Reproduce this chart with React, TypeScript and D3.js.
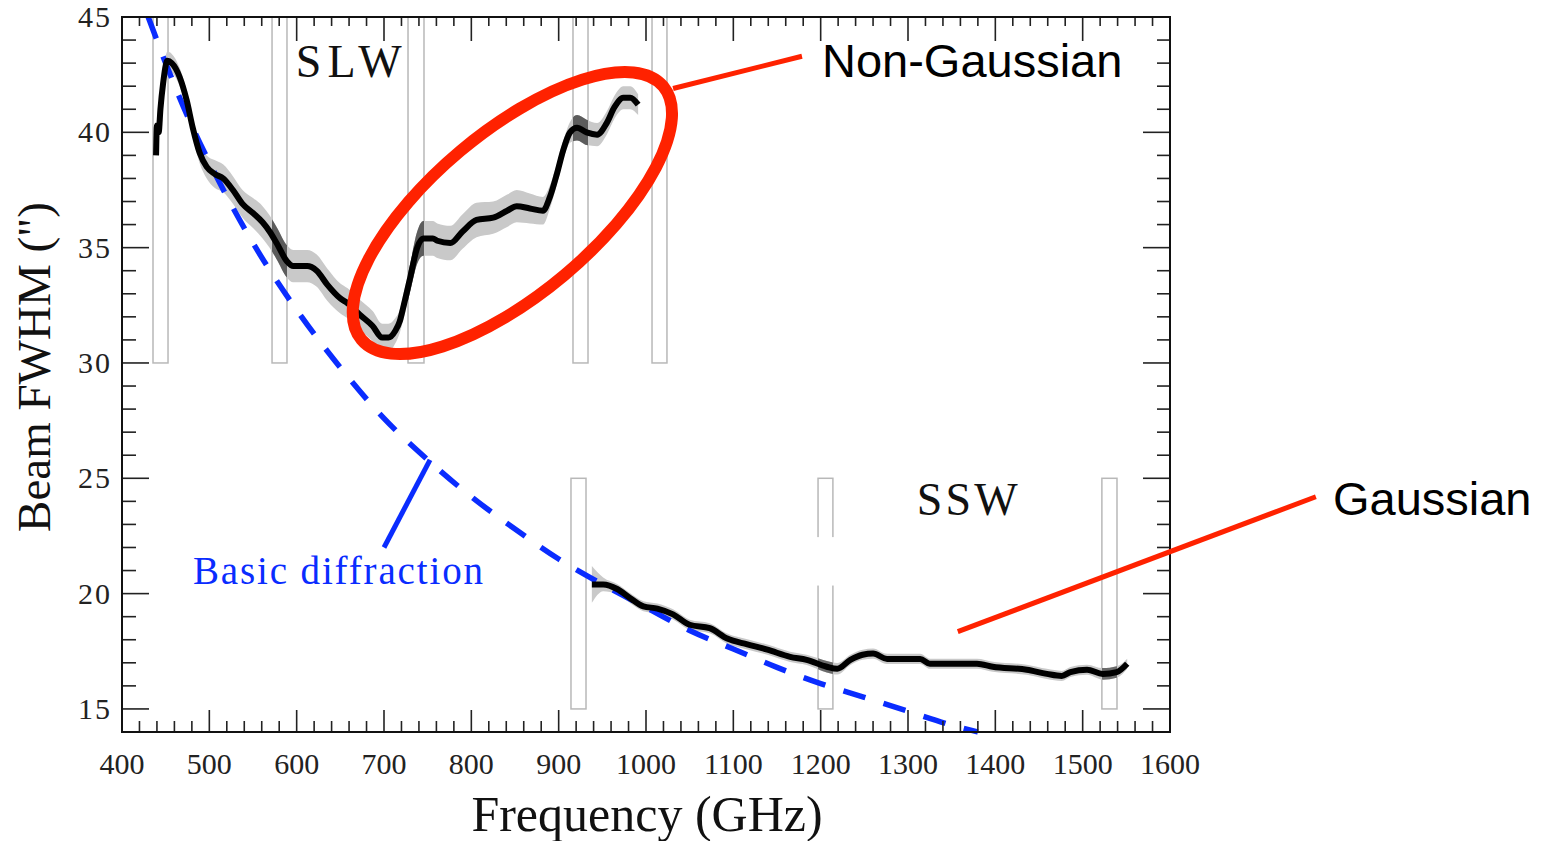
import React from "react";
import * as d3 from "d3";

// ---------- data ----------
const slwFreq = [439, 440, 442, 444, 447, 452, 457, 466, 474, 481, 489, 497, 506, 516, 527, 538, 550, 561, 569, 577, 589, 596, 612, 623, 635, 650, 658, 672, 687, 698, 705, 713, 718, 722, 730, 738, 745, 756, 761, 776, 790, 806, 825, 841, 852, 867, 882, 890, 898, 905, 913, 921, 932, 944, 955, 964, 974, 982, 991];
const slwFwhm = [39.0, 40.3, 40.0, 41.0, 42.1, 43.1, 43.0, 42.4, 41.4, 40.2, 39.1, 38.5, 38.2, 38.0, 37.5, 36.9, 36.5, 36.1, 35.7, 35.2, 34.4, 34.2, 34.2, 34.0, 33.4, 32.8, 32.6, 32.1, 31.6, 31.1, 31.1, 31.4, 31.8, 32.4, 33.7, 35.0, 35.4, 35.4, 35.3, 35.2, 35.7, 36.2, 36.3, 36.6, 36.8, 36.7, 36.6, 37.2, 38.2, 39.2, 40.0, 40.2, 40.0, 39.9, 40.4, 41.1, 41.5, 41.5, 41.2];
const slwBand = [0.25, 0.25, 0.3, 0.35, 0.4, 0.4, 0.4, 0.4, 0.4, 0.4, 0.45, 0.5, 0.6, 0.6, 0.6, 0.6, 0.65, 0.7, 0.7, 0.7, 0.7, 0.7, 0.7, 0.7, 0.7, 0.65, 0.65, 0.65, 0.65, 0.6, 0.6, 0.55, 0.5, 0.55, 0.6, 0.7, 0.75, 0.75, 0.75, 0.75, 0.75, 0.75, 0.7, 0.7, 0.7, 0.65, 0.6, 0.5, 0.45, 0.4, 0.45, 0.55, 0.55, 0.5, 0.5, 0.5, 0.5, 0.5, 0.45];

const sswFreq = [938, 951, 967, 982, 997, 1013, 1031, 1050, 1073, 1093, 1116, 1139, 1165, 1184, 1207, 1219, 1234, 1248, 1260, 1276, 1314, 1325, 1379, 1397, 1436, 1459, 1476, 1486, 1505, 1523, 1539, 1551];
const sswFwhm = [20.4, 20.4, 20.2, 19.8, 19.45, 19.35, 19.1, 18.65, 18.5, 18.05, 17.8, 17.57, 17.26, 17.13, 16.83, 16.74, 17.13, 17.35, 17.4, 17.17, 17.17, 16.96, 16.96, 16.83, 16.7, 16.52, 16.43, 16.6, 16.7, 16.52, 16.6, 16.96];
const sswBand = [0.8, 0.3, 0.22, 0.22, 0.22, 0.22, 0.22, 0.22, 0.22, 0.22, 0.22, 0.22, 0.22, 0.22, 0.25, 0.25, 0.22, 0.22, 0.22, 0.22, 0.22, 0.22, 0.22, 0.22, 0.22, 0.22, 0.22, 0.22, 0.22, 0.25, 0.25, 0.22];

const diffFreq = [430, 450, 475, 500, 550, 600, 650, 700, 750, 800, 850, 900, 950, 1000, 1050, 1100, 1150, 1200, 1250, 1300, 1350, 1380];
const diffFwhm = [45.0, 43.0, 40.7, 38.7, 35.2, 32.3, 29.8, 27.6, 25.8, 24.2, 22.8, 21.5, 20.4, 19.4, 18.4, 17.6, 16.8, 16.1, 15.5, 14.9, 14.3, 14.0];

const slwBoxes = [[435.5, 452.7], [571.8, 588.9], [727.5, 745.8], [916.4, 933.6], [1006.9, 1024]];
const sswBoxes = [[914.1, 931.3], [1197, 1214], [1522, 1539.3]];
const slwBoxRange = [30, 45];
const sswBoxRange = [15, 25];

const xMajor = [400, 500, 600, 700, 800, 900, 1000, 1100, 1200, 1300, 1400, 1500, 1600];
const yMajor = [15, 20, 25, 30, 35, 40, 45];
const xMinor = d3.range(400, 1601, 20);
const yMinor = d3.range(14, 45.01, 1);

// ---------- layout ----------
const W = 1543, H = 841;
const x = d3.scaleLinear().domain([400, 1600]).range([122, 1170]);
const y = d3.scaleLinear().domain([14, 45]).range([732, 17]);
const serif = "'Liberation Serif', 'Times New Roman', serif";
const sans = "'Liberation Sans', Arial, sans-serif";
const RED = "#ff2200";
const BLUE = "#0a2cff";

type P = { f: number; v: number; b: number };
const slw: P[] = slwFreq.map((f, i) => ({ f, v: slwFwhm[i], b: slwBand[i] }));
const ssw: P[] = sswFreq.map((f, i) => ({ f, v: sswFwhm[i], b: sswBand[i] }));
const diff = diffFreq.map((f, i) => ({ f, v: diffFwhm[i] }));

const line = d3.line<P>().x(d => x(d.f)).y(d => y(d.v)).curve(d3.curveMonotoneX);
const band = d3.area<P>().x(d => x(d.f)).y0(d => y(d.v - d.b)).y1(d => y(d.v + d.b)).curve(d3.curveMonotoneX);
const diffLine = d3.line<{ f: number; v: number }>().x(d => x(d.f)).y(d => y(d.v)).curve(d3.curveMonotoneX);

export default function App() {
  const [x0, x1] = x.range();
  const [yb, yt] = y.range();
  const darkBoxesSlw = slwBoxes.slice(1);
  const darkBoxesSsw = sswBoxes.slice(1);
  return (
    <svg width={W} height={H} style={{ position: "absolute", left: 0, top: 0, background: "#fff" }}>
      <defs>
        {darkBoxesSlw.map((b, i) => (
          <clipPath id={`cs${i}`} key={`cs${i}`}>
            <rect x={x(b[0])} y={0} width={x(b[1]) - x(b[0])} height={H} />
          </clipPath>
        ))}
        {darkBoxesSsw.map((b, i) => (
          <clipPath id={`cw${i}`} key={`cw${i}`}>
            <rect x={x(b[0])} y={0} width={x(b[1]) - x(b[0])} height={H} />
          </clipPath>
        ))}
      </defs>

      {/* band boxes */}
      {slwBoxes.map((b, i) => (
        <rect key={`sb${i}`} x={x(b[0])} y={y(slwBoxRange[1])} width={x(b[1]) - x(b[0])}
          height={y(slwBoxRange[0]) - y(slwBoxRange[1])} fill="none" stroke="#b8b8b8" strokeWidth={1.5} />
      ))}
      {sswBoxes.map((b, i) => (
        <rect key={`wb${i}`} x={x(b[0])} y={y(sswBoxRange[1])} width={x(b[1]) - x(b[0])}
          height={y(sswBoxRange[0]) - y(sswBoxRange[1])} fill="none" stroke="#b8b8b8" strokeWidth={1.5} />
      ))}
      <rect x={x(sswBoxes[1][0]) - 2} y={y(22.45)} width={x(sswBoxes[1][1]) - x(sswBoxes[1][0]) + 4} height={y(20.35) - y(22.45)} fill="#fff" />

      {/* uncertainty bands */}
      <path d={band(slw) || ""} fill="#c9c9c9" />
      <path d={band(ssw) || ""} fill="#c9c9c9" />
      {darkBoxesSlw.map((_, i) => (
        <path key={`ds${i}`} d={band(slw) || ""} fill="#5c5c5c" clipPath={`url(#cs${i})`} />
      ))}
      {darkBoxesSsw.map((_, i) => (
        <path key={`dw${i}`} d={band(ssw) || ""} fill="#6a6a6a" clipPath={`url(#cw${i})`} />
      ))}

      {/* diffraction */}
      <path d={diffLine(diff) || ""} fill="none" stroke={BLUE} strokeWidth={5.5} strokeDasharray="23 19" />

      {/* measured */}
      <path d={line(slw) || ""} fill="none" stroke="#000" strokeWidth={6} strokeLinejoin="round" />
      <path d={line(ssw) || ""} fill="none" stroke="#000" strokeWidth={6} strokeLinejoin="round" />

      {/* ticks */}
      {xMinor.map(t => {
        const major = t % 100 === 0;
        return (
          <g key={`xt${t}`} stroke="#222" strokeWidth={1.6}>
            <line x1={x(t)} x2={x(t)} y1={yb} y2={yb - (major ? 22 : 11)} />
            <line x1={x(t)} x2={x(t)} y1={yt} y2={yt + (major ? 24 : 9)} />
          </g>
        );
      })}
      {yMinor.map(t => {
        const major = t % 5 === 0;
        return (
          <g key={`yt${t}`} stroke="#222" strokeWidth={1.6}>
            <line x1={x0} x2={x0 + (major ? 27 : 14)} y1={y(t)} y2={y(t)} />
            <line x1={x1} x2={x1 - (major ? 27 : 13)} y1={y(t)} y2={y(t)} />
          </g>
        );
      })}
      <rect x={x0} y={yt} width={x1 - x0} height={yb - yt} fill="none" stroke="#111" strokeWidth={2} />

      {/* tick labels */}
      {xMajor.map(t => (
        <text key={`xl${t}`} x={x(t)} y={774} textAnchor="middle" fontFamily={serif} fontSize={30} fill="#222">{t}</text>
      ))}
      {yMajor.map(t => (
        <text key={`yl${t}`} x={112} y={y(t) + 10} textAnchor="end" fontFamily={serif} fontSize={30} letterSpacing={2} fill="#222">{t}</text>
      ))}

      {/* axis titles */}
      <text x={647} y={831} textAnchor="middle" fontFamily={serif} fontSize={50} fill="#111">Frequency (GHz)</text>
      <text transform={`translate(50,367) rotate(-90)`} textAnchor="middle" fontFamily={serif} fontSize={47} fill="#111">Beam FWHM (")</text>

      {/* band labels */}
      <text x={x(599)} y={y(42.4)} fontFamily={serif} fontSize={46} textLength={106} lengthAdjust="spacing" fill="#111">SLW</text>
      <text x={x(1310)} y={y(23.4)} fontFamily={serif} fontSize={46} textLength={101} lengthAdjust="spacing" fill="#111">SSW</text>

      {/* basic diffraction annotation */}
      <line x1={x(700)} y1={y(22.0)} x2={x(752.7)} y2={y(25.8)} stroke={BLUE} strokeWidth={5} />
      <text x={x(481.3)} y={y(20.4)} fontFamily={serif} fontSize={39} fill={BLUE} textLength={290} lengthAdjust="spacing">Basic diffraction</text>

      {/* non-gaussian annotation */}
      <ellipse cx={x(847)} cy={y(36.5)} rx={197} ry={81} transform={`rotate(-40 ${x(847)} ${y(36.5)})`} fill="none" stroke={RED} strokeWidth={12} />
      <line x1={x(1031)} y1={y(41.9)} x2={x(1178.6)} y2={y(43.3)} stroke={RED} strokeWidth={5} />
      <text x={x(1201.5)} y={y(42.4)} fontFamily={sans} fontSize={47} fill="#000">Non-Gaussian</text>

      {/* gaussian annotation */}
      <line x1={x(1357)} y1={y(18.35)} x2={x(1767)} y2={y(24.2)} stroke={RED} strokeWidth={5} />
      <text x={x(1786.6)} y={y(23.4)} fontFamily={sans} fontSize={47} fill="#000">Gaussian</text>
    </svg>
  );
}
